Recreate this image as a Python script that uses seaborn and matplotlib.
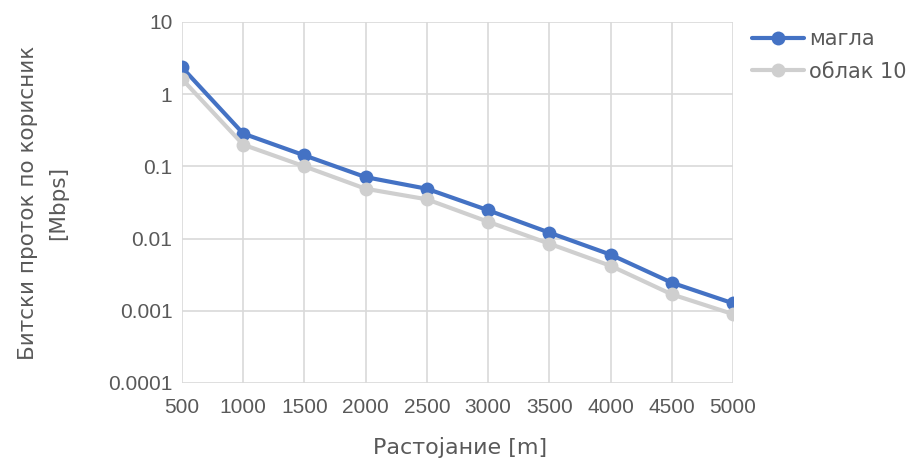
import matplotlib
matplotlib.use("Agg")
import matplotlib.pyplot as plt
import seaborn as sns
import pandas as pd
from matplotlib.lines import Line2D

distance = [500, 1000, 1500, 2000, 2500, 3000, 3500, 4000, 4500, 5000]
magla = [2.35, 0.285, 0.142, 0.071, 0.049, 0.0247, 0.0121, 0.0060, 0.00245, 0.00127]
oblak10 = [1.62, 0.20, 0.100, 0.049, 0.035, 0.0171, 0.0085, 0.0042, 0.00169, 0.00090]
series_names = ["магла", "облак 10"]
ytick_vals = [0.0001, 0.001, 0.01, 0.1, 1, 10]
ytick_labels = ["0.0001", "0.001", "0.01", "0.1", "1", "10"]

df = pd.DataFrame({
    "x": distance * 2,
    "y": magla + oblak10,
    "s": [series_names[0]] * len(distance) + [series_names[1]] * len(distance),
})

sns.set_theme(style="white")
plt.rcParams["font.family"] = ["Liberation Sans", "DejaVu Sans"]
label_font = ["DejaVu Sans"]

fig = plt.figure(figsize=(9.11, 4.66), dpi=100)
ax = fig.add_axes([182/911, 1 - 383/466, (733-182)/911, (383-22)/466])

palette = {series_names[0]: "#4472C4", series_names[1]: "#CFCFCF"}
sns.lineplot(data=df, x="x", y="y", hue="s", palette=palette, ax=ax,
             marker="o", markersize=10, markeredgewidth=0, linewidth=3,
             dashes=False, legend=False)

ax.set_yscale("log")
ax.set_ylim(0.0001, 10)
ax.set_xlim(500, 5000)
ax.set_xticks(distance)
ax.set_xticklabels([str(d) for d in distance])
ax.set_yticks(ytick_vals)
ax.set_yticklabels(ytick_labels)
ax.minorticks_off()
ax.grid(True, color="#D9D9D9", linewidth=1.2)
for sp in ax.spines.values():
    sp.set_visible(False)
ax.tick_params(axis="both", colors="#595959", labelsize=15, length=0)
ax.tick_params(axis="x", pad=11)
ax.tick_params(axis="y", pad=7)
ax.set_xlabel("Растојание [m]", color="#595959", fontsize=16, family=label_font)
ax.xaxis.set_label_coords(0.505, -0.15)
ax.set_ylabel("Битски проток по корисник\n[Mbps]", color="#595959", fontsize=15.5,
              family=label_font, linespacing=1.65)
ax.yaxis.set_label_coords(-0.207, 0.5)

handles = [Line2D([], [], color=palette[n], marker="o", markersize=10, markeredgewidth=0, linewidth=3)
           for n in series_names]
leg = fig.legend(handles, series_names, loc="upper left", bbox_to_anchor=(752/911, 1 - 29/466),
                 frameon=False, prop={"family": label_font, "size": 15},
                 handlelength=2.5, handletextpad=0.25,
                 labelspacing=0.6, borderaxespad=0, borderpad=0)
for t in leg.get_texts():
    t.set_color("#595959")

fig.savefig("out.png", dpi=100)
